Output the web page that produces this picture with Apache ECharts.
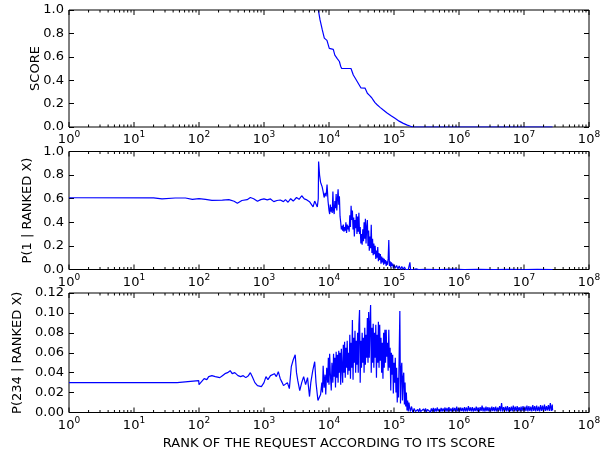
<!DOCTYPE html>
<html>
<head>
<meta charset="utf-8">
<script src="https://cdn.jsdelivr.net/npm/echarts@6/dist/echarts.min.js"></script>
<style>html,body{margin:0;padding:0;background:#fff;}#c{width:613px;height:455px;}</style>
</head>
<body>
<div id="c"></div>
<script>
// ---- data (rank, value) ----
const scorePoints = [[6850,1.0],[7280,0.915],[7890,0.83],[8470,0.76],[9000,0.745],[9300,0.74],[10100,0.672],[10500,0.667],[11640,0.664],[12300,0.615],[13400,0.585],[14450,0.56],[15100,0.52],[15670,0.50],[21800,0.50],[23660,0.444],[25500,0.415],[27290,0.387],[30900,0.335],[35800,0.333],[38900,0.288],[42000,0.27],[45400,0.25],[48000,0.23],[51000,0.208],[55500,0.188],[61000,0.168],[68500,0.145],[77300,0.122],[89000,0.098],[103500,0.074],[120000,0.05],[139000,0.031],[160000,0.016],[180000,0.006],[198000,0.0],[27500000,0.0]];

const p1Points = [[1,0.608],[20,0.607],[27,0.598],[43,0.606],[62,0.606],[79,0.595],[100,0.601],[126,0.595],[158,0.586],[229,0.588],[288,0.592],[347,0.578],[389,0.562],[457,0.585],[550,0.592],[617,0.610],[692,0.600],[794,0.578],[891,0.592],[1000,0.598],[1122,0.590],[1259,0.598],[1413,0.575],[1585,0.585],[1778,0.589],[1995,0.575],[2138,0.592],[2344,0.570],[2570,0.600],[2818,0.580],[3162,0.610],[3467,0.595],[3802,0.625],[4169,0.598],[4571,0.590],[5012,0.575],[5370,0.560],[5689,0.530],[6026,0.580],[6310,0.58],[6607,0.53],[6839,0.60],[6918,0.915],[7161,0.80],[7413,0.74],[7852,0.70],[8128,0.66],[8414,0.61],[8710,0.65],[9016,0.62],[9333,0.72],[9661,0.58],
[10000,0.50],[10233,0.47],[10471,0.55],[10715,0.49],[10965,0.53],[11220,0.48],[11482,0.66],[11749,0.50],[12023,0.47],[12303,0.58],[12589,0.52],[12882,0.64],[13183,0.50],[13490,0.60],[13804,0.68],[14125,0.55],[14454,0.62],[14791,0.45],[15136,0.40],[15488,0.34],[15849,0.37],[16218,0.33],[16596,0.38],[16982,0.32],[17378,0.36],[17783,0.33],[18197,0.40],[18621,0.31],[19055,0.38],[19498,0.34],[19953,0.37],[20417,0.32],[20893,0.46],[21380,0.36],[21878,0.54],[22387,0.42],[22909,0.50],[23442,0.34],[23988,0.44],[24547,0.28],[25119,0.42],[25704,0.35],[26303,0.47],[26915,0.30],[27542,0.45],[28184,0.32],[28840,0.48],[29512,0.30],[30200,0.36],[30903,0.22],[31623,0.30],[32359,0.21],[33113,0.34],[33884,0.24],[34674,0.40],[35481,0.26],[36308,0.43],[37154,0.22],[38019,0.36],[38905,0.42],[39811,0.20],[40738,0.33],[41687,0.16],[42658,0.28],[43652,0.18],[44668,0.38],[45709,0.14],[46774,0.26],[47863,0.12],[48978,0.22],[50119,0.13],[51286,0.20],[52481,0.09],[53703,0.16],[54954,0.10],[56234,0.19],[57544,0.07],[58884,0.14],[60256,0.08],[61660,0.13],[63096,0.05],[64565,0.11],[66069,0.06],[67608,0.10],[69183,0.04],[70795,0.09],[72444,0.05],[74131,0.08],[75858,0.03],[77625,0.07],[79433,0.04],[81283,0.09],[83176,0.25],[85114,0.03],[87096,0.07],[89125,0.02],[91201,0.06],[93325,0.03],[95499,0.05],[97724,0.01],[100000,0.04],
[104713,0.01],[109648,0.035],[114815,0.005],[120226,0.03],[125893,0.0],[131826,0.025],[138038,0.0],[144544,0.02],[151356,0.0],[158489,0.012],[165959,0.0],[175792,0.06],[179887,0.0],[190546,0.01],[199526,0.0],[218776,0.005],[239883,0.0],[300000,0.002],[500000,0.0],[800000,0.003],[1200000,0.0],[2000000,0.002],[3500000,0.0],[6000000,0.002],[10000000,0.0],[16000000,0.002],[27500000,0.0]];

const p234Points = [[1,0.030],[46,0.030],[47,0.032],[99,0.032],[100,0.028],[107,0.030],[120,0.034],[132,0.033],[141,0.036],[158,0.037],[178,0.036],[190,0.038],[209,0.035],[229,0.037],[251,0.039],[275,0.040],[302,0.042],[324,0.039],[355,0.040],[398,0.037],[437,0.036],[479,0.037],[525,0.035],[575,0.037],[617,0.040],[661,0.036],[724,0.030],[794,0.027],[851,0.029],[912,0.026],[1000,0.030],[1072,0.036],[1148,0.033],[1259,0.037],[1349,0.035],[1445,0.039],[1549,0.036],[1660,0.041],[1778,0.034],[1905,0.030],[1995,0.027],[2138,0.025],[2291,0.030],[2455,0.024],[2630,0.046],[2818,0.053],[3020,0.058],[3162,0.040],[3311,0.032],[3548,0.022],[3802,0.030],[4074,0.036],[4365,0.028],[4677,0.035],[5012,0.016],[5248,0.030],[5623,0.042],[6026,0.051],[6310,0.030],[6761,0.012],[7079,0.010],[7413,0.018],[7762,0.030],[7943,0.020],[8128,0.047],[8414,0.025],[8710,0.038],[8913,0.018],[9226,0.045],[9550,0.030],[9772,0.055],[10000,0.028],[10233,0.059],[10471,0.040],[10839,0.022],[11092,0.050],[11482,0.030],[11749,0.059],[12023,0.036],[12303,0.055],[12589,0.025],[12882,0.061],[13183,0.035],[13490,0.058],[13804,0.030],[14125,0.062],[14454,0.040],[14791,0.060],[15136,0.028],[15488,0.064],[15849,0.045],[16218,0.030],[16596,0.068],[16982,0.040],[17378,0.071],[17783,0.035],[18197,0.065],[18621,0.045],[19055,0.072],[19498,0.038],[19953,0.060],[20417,0.042],[20893,0.078],[21380,0.034],[21878,0.070],[22387,0.045],[22909,0.093],[23442,0.033],[23988,0.075],[24547,0.050],[25119,0.082],[25704,0.040],[26303,0.072],[26915,0.048],[27542,0.080],[28184,0.040],[28840,0.088],[29512,0.103],[30200,0.030],[30903,0.072],[31623,0.045],[32359,0.080],[33113,0.050],[33884,0.075],[34674,0.040],[35481,0.085],[36308,0.048],[37154,0.078],[38019,0.055],[38905,0.095],[39811,0.050],[40738,0.101],[41687,0.055],[42658,0.090],[43652,0.108],[44668,0.040],[45709,0.085],[46774,0.050],[47863,0.089],[48978,0.045],[50119,0.080],[51286,0.055],[52481,0.088],[53703,0.035],[54954,0.078],[56234,0.050],[57544,0.091],[58884,0.045],[60256,0.088],[61660,0.052],[63096,0.075],[64565,0.040],[66069,0.070],[67608,0.034],[69183,0.080],[70795,0.045],[72444,0.083],[74131,0.050],[75858,0.083],[77625,0.056],[79433,0.070],[81283,0.042],[83176,0.083],[85114,0.045],[87096,0.065],[89125,0.022],[91201,0.060],[93325,0.038],[95499,0.058],[97724,0.019],[100000,0.050],[102329,0.030],[104713,0.055],[107152,0.020],[109648,0.045],[112202,0.010],[114815,0.035],[117490,0.015],[120226,0.060],[123027,0.102],[125893,0.009],[128825,0.043],[131826,0.050],[134896,0.012],[138038,0.035],[141254,0.040],[144544,0.008],[147911,0.030],[151356,0.006],[154882,0.020],[158489,0.002],[162181,0.012],[165959,0.001],[169824,0.010],[177828,0.001],[186209,0.006],[194984,0.000],[204174,0.004],[213796,0.001],
[223900,0.001],[231700,0.003],[239900,0.0005],[248300,0.004],[257000,0.001],[266100,0.0025],[275400,0.0005],[285100,0.0035],[295100,0.001],[305500,0.004],[316200,0.0008],[327300,0.003],[338800,0.001],[350800,0.0035],[363100,0.0005],[375800,0.004],[389000,0.001],[402700,0.0045],[416900,0.0008],[431500,0.004],[446700,0.001],[462400,0.005],[478600,0.0012],[495500,0.0035],[512900,0.0008],[530900,0.0045],[549500,0.001],[568900,0.004],[588800,0.0012],[609500,0.005],[631000,0.001],[653100,0.0045],[676100,0.0008],[699800,0.0055],[724400,0.0012],[749900,0.004],[776200,0.001],[803500,0.005],[831800,0.0012],[861000,0.0045],[891300,0.001],[922600,0.006],[955000,0.0012],[988600,0.0045],[1023000,0.001],[1059000,0.005],[1096000,0.0015],[1135000,0.0045],[1175000,0.001],[1216000,0.0055],[1259000,0.0012],[1303000,0.005],[1349000,0.001],[1396000,0.0065],[1445000,0.0015],[1496000,0.005],[1549000,0.0012],[1603000,0.0055],[1660000,0.001],[1718000,0.0045],[1778000,0.0015],[1841000,0.006],[1905000,0.0012],[1972000,0.005],[2042000,0.001],[2113000,0.0055],[2188000,0.0015],[2265000,0.007],[2344000,0.0012],[2427000,0.005],[2512000,0.001],[2600000,0.006],[2692000,0.0015],[2786000,0.0055],[2884000,0.0012],[2985000,0.005],[3090000,0.001],[3199000,0.006],[3311000,0.0015],[3428000,0.0055],[3548000,0.0012],[3673000,0.006],[3802000,0.001],[3936000,0.005],[4074000,0.0015],[4217000,0.0065],[4365000,0.0012],[4519000,0.0095],[4677000,0.001],[4842000,0.0055],[5012000,0.0015],[5188000,0.006],[5370000,0.0012],[5559000,0.0065],[5754000,0.001],[5957000,0.0055],[6166000,0.0015],[6383000,0.006],[6607000,0.0012],[6839000,0.007],[7079000,0.0015],[7328000,0.006],[7586000,0.001],[7852000,0.0065],[8128000,0.0015],[8414000,0.0055],[8710000,0.0012],[9016000,0.006],[9333000,0.0015],[9661000,0.0065],[10000000,0.0012],[10350000,0.006],[10720000,0.0015],[11090000,0.007],[11480000,0.0012],[11890000,0.0065],[12300000,0.0015],[12740000,0.006],[13180000,0.0012],[13650000,0.0075],[14130000,0.0015],[14620000,0.0065],[15140000,0.0012],[15670000,0.007],[16220000,0.0015],[16790000,0.006],[17380000,0.0012],[17990000,0.0075],[18620000,0.0015],[19280000,0.007],[19950000,0.0012],[20650000,0.008],[21380000,0.0015],[22130000,0.0065],[22910000,0.002],[23710000,0.0075],[24550000,0.0015],[25410000,0.0095],[26300000,0.0015],[27230000,0.008],[27540000,0.002]];

const majorTicks = [1, 10, 100, 1e3, 1e4, 1e5, 1e6, 1e7, 1e8];
const minorMultipliers = [2, 3, 4, 5, 6, 7, 8, 9];
const yTitles = ['SCORE', 'P(1 | RANKED X)', 'P(234 | RANKED X)'];
const xTitle = 'RANK OF THE REQUEST ACCORDING TO ITS SCORE';

// ---- layout ----
const FONT = 'DejaVu Sans';
const panels = [
  { top: 10, height: 117, max: 1, interval: 0.2, digits: 1, gap: 27, data: scorePoints },
  { top: 151.5, height: 118, max: 1, interval: 0.2, digits: 1, gap: 35, data: p1Points },
  { top: 293, height: 119.5, max: 0.12, interval: 0.02, digits: 2, gap: 45, data: p234Points }
];
const minorTickValues = [];
majorTicks.slice(0, -1).forEach(d => minorMultipliers.forEach(m => minorTickValues.push(m * d)));

const grid = [], xAxis = [], yAxis = [], series = [];
panels.forEach((p, g) => {
  grid.push({ left: 69, right: 24, top: p.top, height: p.height, show: true, borderColor: '#000', borderWidth: 1, backgroundColor: 'transparent' });
  xAxis.push({
    gridIndex: g, type: 'log', logBase: 10, min: 1, max: 1e8, splitNumber: 8, position: 'bottom',
    axisLine: { show: false }, splitLine: { show: false }, axisTick: { show: false }, minorTick: { show: false },
    name: g === 2 ? xTitle : '', nameLocation: 'middle', nameGap: 25, nameMoveOverlap: false,
    nameTextStyle: { fontFamily: FONT, fontSize: 13, color: '#000' },
    axisLabel: {
      margin: 3, color: '#000', showMinLabel: true, showMaxLabel: true, hideOverlap: false,
      formatter: v => '{b|10}{s|' + Math.round(Math.log10(v)) + '}',
      rich: {
        b: { fontFamily: FONT, fontSize: 13, color: '#000', lineHeight: 15, padding: [5, 0, 0, 0] },
        s: { fontFamily: FONT, fontSize: 9, color: '#000', lineHeight: 11, padding: [2, 0, 7, 0] }
      }
    }
  });
  const yCommon = { gridIndex: g, type: 'value', min: 0, max: p.max, interval: p.interval, splitLine: { show: false }, axisLine: { show: false } };
  yAxis.push(Object.assign({}, yCommon, {
    position: 'left',
    axisTick: { show: true, inside: true, length: 5, lineStyle: { color: '#000' } },
    axisLabel: { margin: 5, fontFamily: FONT, fontSize: 13, color: '#000', formatter: v => v.toFixed(p.digits) },
    name: yTitles[g], nameLocation: 'middle', nameGap: p.gap, nameMoveOverlap: false,
    nameTextStyle: { fontFamily: FONT, fontSize: 13, color: '#000' }
  }));
  yAxis.push(Object.assign({}, yCommon, {
    position: 'right',
    axisTick: { show: true, inside: true, length: 5, lineStyle: { color: '#000' } },
    axisLabel: { show: false }
  }));
  series.push({
    type: 'line', xAxisIndex: g, yAxisIndex: 2 * g, data: p.data, showSymbol: false, symbol: 'none',
    sampling: null, lineStyle: { color: '#0000ff', width: 1.2 }, animation: false, silent: true, z: 3
  });
  const tickSeries = (vals, len) => ({
    type: 'custom', xAxisIndex: g, yAxisIndex: 2 * g, silent: true, animation: false, z: 4,
    data: vals.map(v => [v]),
    encode: { x: 0 },
    renderItem: (params, api) => {
      const x = api.value(0);
      const b = api.coord([x, 0]);
      const t = api.coord([x, p.max]);
      return { type: 'group', children: [
        { type: 'line', shape: { x1: b[0], y1: b[1], x2: b[0], y2: b[1] - len }, style: { stroke: '#000', lineWidth: 1 } },
        { type: 'line', shape: { x1: t[0], y1: t[1], x2: t[0], y2: t[1] + len }, style: { stroke: '#000', lineWidth: 1 } }
      ] };
    }
  });
  series.push(tickSeries(majorTicks, 5));
  series.push(tickSeries(minorTickValues, 2.5));
});

const chart = echarts.init(document.getElementById('c'), null, { renderer: 'canvas' });
chart.setOption({ backgroundColor: '#fff', animation: false, grid, xAxis, yAxis, series });
</script>
</body>
</html>
